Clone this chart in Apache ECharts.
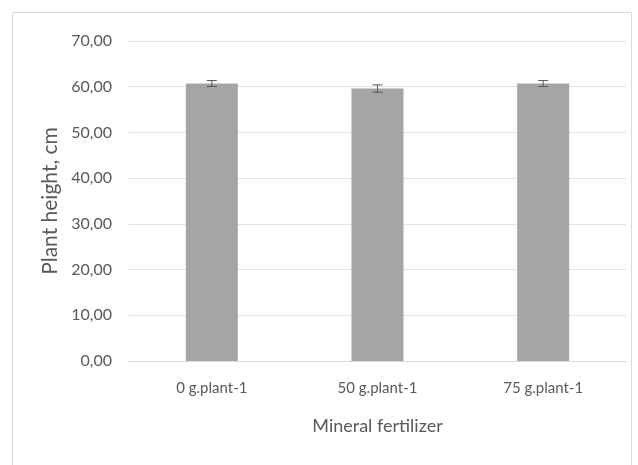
<!DOCTYPE html>
<html><head><meta charset="utf-8">
<script src="https://cdn.jsdelivr.net/npm/echarts@6/dist/echarts.min.js"></script>
<style>html,body{margin:0;padding:0;background:#fff}#c{width:638px;height:465px}</style>
</head><body><div id="c"></div>
<script>
var categories = ['0 g.plant-1', '50 g.plant-1', '75 g.plant-1'];
var values = [60.7, 59.6, 60.7];
var errors = [0.65, 0.8, 0.65];
var yTicks = [0, 10, 20, 30, 40, 50, 60, 70];

var chart = echarts.init(document.getElementById('c'));
var font = 'Lato, "Open Sans", sans-serif';
chart.setOption({
  animation: false,
  graphic: [{type: 'rect', shape: {x: 12.5, y: 12.5, width: 619, height: 470}, style: {fill: 'none', stroke: '#d9d9d9', lineWidth: 1}}],
  grid: {left: 129, right: 12, top: 41, bottom: 104},
  xAxis: {
    type: 'category', data: categories,
    name: 'Mineral fertilizer', nameLocation: 'middle', nameGap: 56,
    nameTextStyle: {fontFamily: font, fontSize: 18, color: '#595959'},
    axisLine: {lineStyle: {color: '#d9d9d9'}}, axisTick: {show: false},
    axisLabel: {fontFamily: font, fontSize: 15, color: '#595959', margin: 20}
  },
  yAxis: {
    type: 'value', min: yTicks[0], max: yTicks[yTicks.length - 1], interval: 10,
    name: 'Plant height, cm', nameLocation: 'middle', nameGap: 67,
    nameTextStyle: {fontFamily: font, fontSize: 21, color: '#595959'},
    axisLine: {show: false}, axisTick: {show: false},
    axisLabel: {fontFamily: font, fontSize: 16, color: '#595959', margin: 17,
      formatter: function (v) { return v.toFixed(2).replace('.', ','); }},
    splitLine: {lineStyle: {color: '#e3e3e3'}}
  },
  series: [{
    type: 'bar', data: values, barWidth: 52,
    itemStyle: {color: '#a5a5a5'}
  }, {
    type: 'custom',
    data: values.map(function (v, i) { return [i, v - errors[i], v + errors[i]]; }),
    renderItem: function (params, api) {
      var lo = api.coord([api.value(0), api.value(1)]);
      var hi = api.coord([api.value(0), api.value(2)]);
      var x = lo[0], w = 5;
      var st = {stroke: '#595959', lineWidth: 1};
      return {type: 'group', children: [
        {type: 'line', shape: {x1: x, y1: lo[1], x2: x, y2: hi[1]}, style: st},
        {type: 'line', shape: {x1: x - w, y1: lo[1], x2: x + w, y2: lo[1]}, style: st},
        {type: 'line', shape: {x1: x - w, y1: hi[1], x2: x + w, y2: hi[1]}, style: st}
      ]};
    },
    z: 5
  }]
});
</script></body></html>
